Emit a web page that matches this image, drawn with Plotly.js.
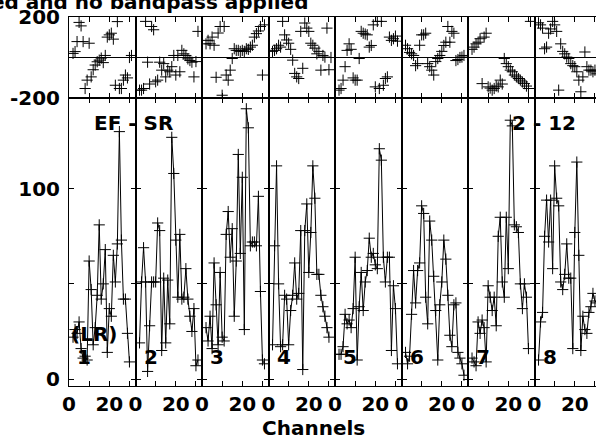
<!DOCTYPE html>
<html>
<head>
<meta charset="utf-8">
<script src="https://cdn.plot.ly/plotly-3.0.1.min.js"></script>
<style>html,body{margin:0;padding:0;overflow:hidden;background:#fff;}#plot{width:604px;height:437px;}</style>
</head>
<body>
<div id="plot"></div>
<script>
// ---- data ----
const channels = [2,3,4,5,6,7,8,9,10,11,12,13,14,15,16,17,18,19,20,21,22,23,24,25,26,27,28,29,30,31];
const panelLabels = ["1","2","3","4","5","6","7","8"];
const xTickVals = [0,10,20,30];
const xTickText = ["0","","20",""];
const ampTickVals = [0,50,100];
const ampTickText = ["0","","100"];
const phTickVals = [-200,200];
const phTickText = ["-200","200"];

const amp1 = [22,26,24,30,16,11,12,10,62,47,18,27,44,81,42,50,68,14,37,33,65,51,71,130,73,42,42,24,9,null];
const amp2 = [19,51,69,51,4,28,51,51,51,82,78,15,53,19,52,29,127,108,73,43,76,42,43,58,42,33,25,37,7,10];
const amp3 = [27,20,33,16,61,39,18,56,22,20,76,88,64,79,33,62,118,66,106,26,142,132,70,72,72,70,96,46,10,8];
const amp4 = [18,70,112,50,17,18,44,42,18,36,44,61,42,45,78,5,78,92,56,77,112,95,55,55,44,38,33,27,22,null];
const amp5 = [13,13,17,34,29,31,27,37,64,10,38,56,36,51,57,74,64,66,60,58,121,115,64,51,64,64,15,49,37,8];
const amp6 = [14,8,12,34,57,40,57,61,91,87,43,29,83,73,54,36,10,39,51,73,63,44,23,17,39,40,14,11,8,2];
const amp7 = [11,9,7,30,24,31,27,9,49,43,36,43,28,75,85,51,43,85,58,136,133,81,80,77,50,37,50,43,16,null];
const amp8 = [10,30,35,75,94,72,94,58,112,95,91,51,47,55,71,53,53,16,77,114,65,15,33,26,24,35,38,45,41,40];

const ph1 = [20,29,78,172,155,78,-152,-111,70,-95,-60,-37,-21,-13,-3,-25,10,100,111,119,90,-136,176,-152,-152,-111,-86,-100,0,10];
const ph2 = [-160,-160,-152,177,-23,-130,152,136,-119,-111,-23,-62,-30,-95,-62,-70,-45,10,-86,10,-70,35,18,10,-7,-15,-23,-95,-20,128];
const ph3 = [67,84,67,100,60,-97,120,152,-185,152,-86,-111,-62,-5,43,35,35,30,35,30,43,40,51,60,100,117,130,152,-86,160];
const ph4 = [30,35,43,60,51,177,111,86,70,40,-13,-78,-95,-103,128,-53,169,144,128,70,60,46,18,30,-62,10,2,144,-60,0];
const ph5 = [-160,-152,-111,-45,35,67,40,-100,-111,-111,-5,128,119,115,111,51,59,160,-144,177,-152,177,-136,-103,-95,100,84,92,105,80];
const ph6 = [60,43,25,18,10,-40,-30,60,111,111,119,-30,-45,-62,-86,-20,-5,10,30,59,75,152,75,128,119,-15,-10,0,2,10];
const ph7 = [40,51,67,75,92,-128,100,119,-144,-150,-160,-152,-140,-144,-111,-130,-5,-30,-45,-62,-70,-86,-95,-103,-111,-120,-128,-140,-152,177];
const ph8 = [170,160,144,43,51,119,140,177,160,128,-160,67,30,18,2,-5,-30,-40,-45,-70,-111,-168,-95,27,-45,-62,-62,-70,-62,-80];

const amps = [amp1,amp2,amp3,amp4,amp5,amp6,amp7,amp8];
const phases = [ph1,ph2,ph3,ph4,ph5,ph6,ph7,ph8];

// ---- layout geometry ----
const W = 604, H = 437;
const left0 = 69, pw = 66.5;
const ampTop = 98.3, ampBot = 385.7, phTop = 16.7;
const FONT = {family: "DejaVu Sans", size: 20, color: "#000", weight: "bold"};

const traces = [];
const layout = {
  width: W, height: H,
  margin: {l:0, r:0, t:0, b:0},
  paper_bgcolor: "#fff", plot_bgcolor: "#fff",
  showlegend: false,
  font: FONT,
  annotations: []
};

const marker = {symbol: "cross-thin-open", size: 8, color: "#000", line: {color: "#000", width: 1}};

for (let k = 0; k < 8; k++) {
  const ia = k + 1, ip = k + 9;
  const xd = [(left0 + k*pw)/W, (left0 + (k+1)*pw)/W];
  traces.push({
    x: channels, y: amps[k], type: "scatter", mode: "lines+markers",
    xaxis: "x" + ia, yaxis: "y" + ia,
    line: {color: "#000", width: 1}, marker: marker, connectgaps: false,
    cliponaxis: true, hoverinfo: "skip"
  });
  traces.push({
    x: channels, y: phases[k], type: "scatter", mode: "markers",
    xaxis: "x" + ip, yaxis: "y" + ip,
    marker: marker, cliponaxis: true, hoverinfo: "skip"
  });
  const xbase = {
    domain: xd, range: [0, 33], tickmode: "array", tickvals: xTickVals, ticktext: xTickText,
    ticks: "inside", ticklen: 5, tickwidth: 1, tickcolor: "#000",
    showline: true, linecolor: "#000", linewidth: 1, mirror: "allticks",
    showgrid: false, zeroline: false, tickfont: FONT, fixedrange: true
  };
  layout["xaxis" + ia] = Object.assign({}, xbase, {anchor: "y" + ia, showticklabels: true});
  layout["xaxis" + ip] = Object.assign({}, xbase, {anchor: "y" + ip, showticklabels: false});
  layout["yaxis" + ia] = {
    domain: [(H - ampBot)/H, (H - ampTop)/H], range: [-3.5, 147.5], anchor: "x" + ia,
    tickmode: "array", tickvals: ampTickVals, ticktext: ampTickText,
    ticks: "inside", ticklen: 5, tickwidth: 1, tickcolor: "#000",
    showline: true, linecolor: "#000", linewidth: 1, mirror: "allticks",
    showgrid: false, zeroline: false, showticklabels: k === 0, tickfont: FONT,
    ticklabelstandoff: 4, fixedrange: true
  };
  layout["yaxis" + ip] = {
    domain: [(H - ampTop)/H, (H - phTop)/H], range: [-200, 200], anchor: "x" + ip,
    tickmode: "array", tickvals: phTickVals, ticktext: phTickText,
    ticks: "inside", ticklen: 5, tickwidth: 1, tickcolor: "#000",
    showline: true, linecolor: "#000", linewidth: 1, mirror: "allticks",
    showgrid: false, zeroline: true, zerolinecolor: "#000", zerolinewidth: 1,
    showticklabels: k === 0, tickfont: FONT, ticklabelstandoff: 4, fixedrange: true
  };
  layout.annotations.push({
    text: panelLabels[k], xref: "x" + ia, yref: "y" + ia, x: 7.5, y: 11.6,
    showarrow: false, font: FONT, xanchor: "center", yanchor: "middle"
  });
}

layout.annotations.push(
  {text: "ed and no bandpass applied", xref: "paper", yref: "paper", x: 310/W, y: 1 - 2/H,
   xanchor: "right", yanchor: "middle", showarrow: false, font: FONT},
  {text: "Channels", xref: "paper", yref: "paper", x: 313/W, y: (H - 428)/H,
   xanchor: "center", yanchor: "middle", showarrow: false, font: FONT},
  {text: "EF - SR", xref: "x1", yref: "y1", x: 11.5, y: 134.5,
   xanchor: "left", yanchor: "middle", showarrow: false, font: FONT},
  {text: "2 - 12", xref: "x8", yref: "y8", x: 21.75, y: 134.5,
   xanchor: "right", yanchor: "middle", showarrow: false, font: FONT},
  {text: "(LR)", xref: "x1", yref: "y1", x: 12.5, y: 23.6,
   xanchor: "center", yanchor: "middle", showarrow: false, font: FONT}
);

Plotly.newPlot("plot", traces, layout, {staticPlot: true, displayModeBar: false});
</script>
</body>
</html>
